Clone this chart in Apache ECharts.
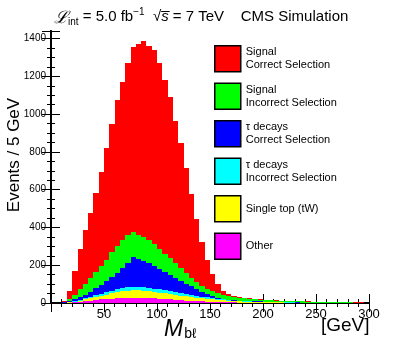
<!DOCTYPE html>
<html><head><meta charset="utf-8">
<script src="https://cdn.jsdelivr.net/npm/echarts@6/dist/echarts.min.js"></script>
<style>html,body{margin:0;padding:0;background:#fff}#c{width:399px;height:353px}</style>
</head><body><div id="c"></div>
<script>
// 5 GeV bins, lower edges
const binLow = [0,5,10,15,20,25,30,35,40,45,50,55,60,65,70,75,80,85,90,95,
  100,105,110,115,120,125,130,135,140,145,150,155,160,165,170,175,180,185,190,195,
  200,205,210,215,220,225,230,235,240,245,250,255,260,265,270,275,280,285,290,295];
const binWidth = 5;

const sigCorrect = [0,0,4,41,126,211,281,346,420,499,590,679,771,835,908,981,1012,1042,1031,1027,
  983,919,850,756,664,554,444,334,235,155,93,51,21,9,4,3,2,2,2,2,
  2,1,2,1,1,1,1,1,1,1,1,1,1,1,1,1,0,1,1,0];
const sigIncorrect = [0,0,1,10,25,43,58,73,87,101,115,131,143,151,150,131,124,123,121,114,
  105,96,88,77,66,57,45,36,29,27,26,24,23,21,18,15,14,13,11,10,
  9,9,8,7,7,6,6,6,5,5,4,4,3,3,2,2,3,2,2,2];
const tauCorrect = [0,0,1,5,10,14,20,27,36,46,57,72,88,107,129,156,148,140,130,120,
  110,99,88,76,66,57,47,37,27,17,10,6,3,2,2,2,2,2,2,2,
  2,1,1,1,1,1,1,1,1,0,0,0,0,0,0,0,0,0,0,0];
const tauIncorrect = [0,0,0,2,3,5,6,8,10,12,13,14,16,17,18,20,19,19,18,17,
  17,16,15,14,12,11,10,9,8,8,7,6,5,4,3,3,2,2,2,1,
  1,1,1,1,1,1,0,0,0,0,0,0,0,0,0,0,0,0,0,0];
const singleTop = [0,0,1,1,3,6,9,12,16,19,24,28,31,34,37,38,38,37,35,34,
  32,30,28,26,24,22,20,19,17,16,14,12,10,9,7,6,5,4,3,4,
  3,3,2,2,1,1,1,1,1,1,1,1,1,1,1,1,0,0,0,0];
const other = [0,0,1,2,4,7,10,13,16,19,21,23,25,27,28,29,29,28,27,25,
  23,21,19,17,15,13,11,9,8,6,5,4,4,3,3,2,2,2,2,1,
  1,1,1,1,1,1,1,0,0,0,0,0,0,0,0,0,0,0,0,0];

const xTicks = [0,50,100,150,200,250,300];
const yTicks = [0,200,400,600,800,1000,1200,1400];

// stacking order: bottom first
const seriesDefs = [
  {name:'Other', data: other, color:'#ff00ff'},
  {name:'Single top (tW)', data: singleTop, color:'#ffff00'},
  {name:'τ decays\nIncorrect Selection', data: tauIncorrect, color:'#00ffff'},
  {name:'τ decays\nCorrect Selection', data: tauCorrect, color:'#0000ff'},
  {name:'Signal\nIncorrect Selection', data: sigIncorrect, color:'#00ff00'},
  {name:'Signal\nCorrect Selection', data: sigCorrect, color:'#ff0000'}
];

// build stacked [xLow, xHigh, base, top] rows
const base = binLow.map(() => 0);
const stackedRows = seriesDefs.map(s => s.data.map((v, i) => {
  const row = [binLow[i], binLow[i] + binWidth, base[i], base[i] + v];
  base[i] += v;
  return row;
}));

const chart = echarts.init(document.getElementById('c'), null, {renderer:'canvas'});
const FONT = 'Liberation Sans, Arial, Helvetica, sans-serif';
const axisLine = {show:true, lineStyle:{color:'#000', width:2}};
const valueX = (pos, labels) => ({
  type:'value', position:pos, min:xTicks[0], max:xTicks[xTicks.length-1], interval:50,
  axisLine, splitLine:{show:false},
  axisTick:{show:true, inside:true, length:9, lineStyle:{color:'#000', width:1}},
  minorTick:{show:true, splitNumber:5, length:4, lineStyle:{color:'#000', width:1}},
  axisLabel:{show:labels, showMinLabel:false, fontSize:13, color:'#000', fontFamily:FONT, margin:5,
    formatter: v => String(v)}
});
const valueY = (pos, labels) => ({
  type:'value', position:pos, min:yTicks[0], max:1440, interval:200,
  axisLine, splitLine:{show:false},
  axisTick:{show:true, inside:true, length:9, lineStyle:{color:'#000', width:1}},
  minorTick:{show:true, splitNumber:4, length:4, lineStyle:{color:'#000', width:1}},
  axisLabel:{show:labels, showMaxLabel:false, fontSize:10, color:'#000', fontFamily:FONT, margin:5,
    formatter: v => String(v)}
});

function renderBin(params, api) {
  if (api.value(3) <= api.value(2)) return null;
  const p0 = api.coord([api.value(0), api.value(2)]);
  const p1 = api.coord([api.value(1), api.value(3)]);
  const x0 = Math.round(p0[0]), x1 = Math.round(p1[0]);
  const yb = Math.round(p0[1]), yt = Math.round(p1[1]);
  if (yb - yt <= 0) return null;
  return {type:'rect', shape:{x:x0, y:yt, width:x1 - x0, height:yb - yt},
    style:{fill: api.visual('color')}};
}

// measure title pieces to place the overline above "s"
const mctx = document.createElement('canvas').getContext('2d');
function w(txt, font){ mctx.font = font; return mctx.measureText(txt).width; }
const titleLeft = 54;
const pre = w('ℒ', 'italic 17px DejaVu Serif') + w('int', '10px Liberation Sans') +
  w(' = 5.0 fb', '15px Liberation Sans') + w('−1', '10px Liberation Sans') + w('  √', '15px Liberation Sans');
const sW = w('s', 'italic 15px Liberation Sans');

chart.setOption({
  animation:false,
  backgroundColor:'#fff',
  grid:{left:51, right:30, top:31, bottom:50},
  xAxis:[valueX('bottom', true), valueX('top', false)],
  yAxis:[valueY('left', true), valueY('right', false)],
  legend:{
    orient:'vertical', left:214, top:45, padding:0,
    itemWidth:26, itemHeight:26, itemGap:10,
    icon:'rect',
    itemStyle:{borderColor:'#000', borderWidth:1.5},
    textStyle:{fontSize:11, lineHeight:13, color:'#000', fontFamily:FONT},
    data: seriesDefs.slice().reverse().map(s => s.name)
  },
  series: seriesDefs.map((s, k) => ({
    type:'custom', name:s.name, data:stackedRows[k],
    xAxisIndex:0, yAxisIndex:0, clip:true,
    encode:{x:[0,1], y:[2,3]},
    itemStyle:{color:s.color},
    renderItem: renderBin,
    emphasis:{disabled:true}
  })),
  graphic:[
    {type:'text', left:titleLeft, top:7, style:{
      text:'{L|ℒ}{sub|int} = 5.0 fb{sup|−1}  √{s|s} = 7 TeV    CMS Simulation',
      fontSize:15, fontFamily:FONT, fill:'#000',
      rich:{
        L:{fontSize:17, fontFamily:'DejaVu Serif, serif', fontStyle:'italic', lineHeight:20, verticalAlign:'bottom'},
        sub:{fontSize:10, fontFamily:FONT, lineHeight:20, verticalAlign:'bottom'},
        sup:{fontSize:10, fontFamily:FONT, lineHeight:20, verticalAlign:'top'},
        s:{fontSize:15, fontFamily:FONT, fontStyle:'italic', lineHeight:20}
      }
    }},
    {type:'line', shape:{x1:titleLeft+pre, y1:11.5, x2:titleLeft+pre+sW+1, y2:11.5}, style:{stroke:'#000', lineWidth:1}},
    {type:'text', x:14, y:155, rotation:Math.PI/2, style:{
      text:'Events / 5 GeV', fontSize:17, fontFamily:FONT, fill:'#000',
      align:'center', verticalAlign:'middle'
    }},
    {type:'text', left:164, top:318, style:{
      text:'{M|M}{b|bℓ}', fill:'#000',
      rich:{
        M:{fontSize:23, fontStyle:'italic', fontFamily:FONT, lineHeight:26, verticalAlign:'bottom'},
        b:{fontSize:14, fontFamily:FONT, lineHeight:26, verticalAlign:'bottom', padding:[0,0,0,1]}
      }
    }},
    {type:'text', left:321, top:316, style:{
      text:'[GeV]', fontSize:19, fontFamily:FONT, fill:'#000'
    }}
  ]
});
</script>
</body></html>
